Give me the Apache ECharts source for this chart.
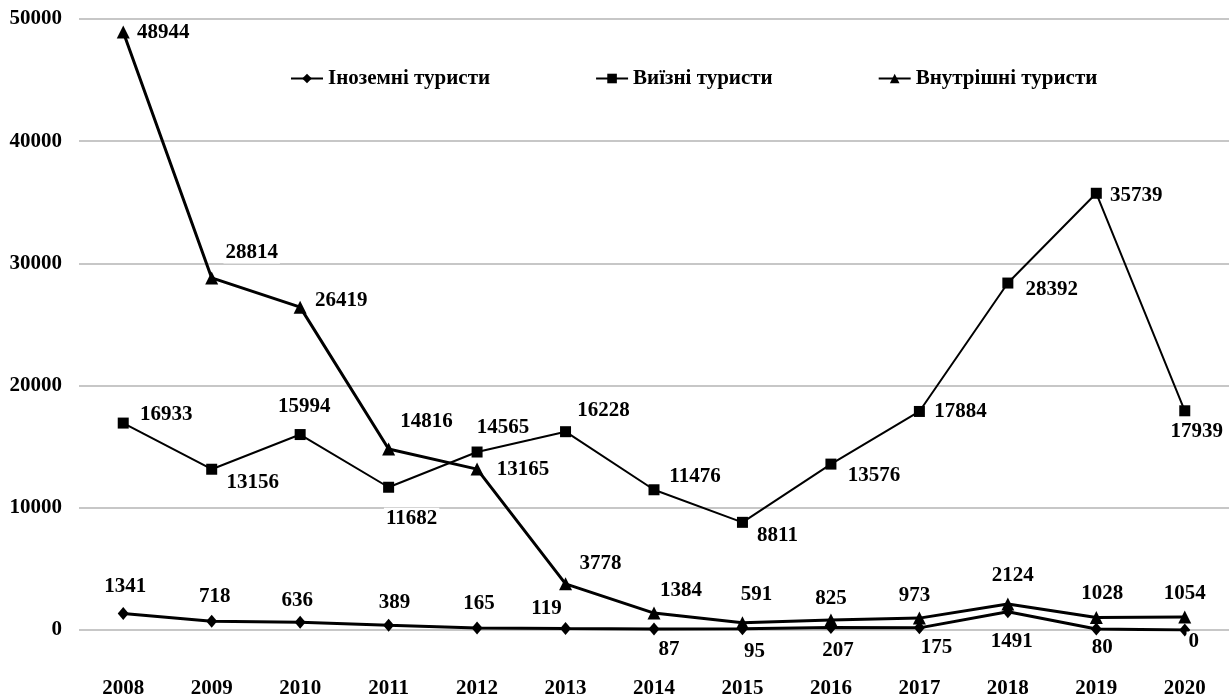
<!DOCTYPE html>
<html>
<head>
<meta charset="utf-8">
<script src="https://cdn.jsdelivr.net/npm/echarts@6/dist/echarts.min.js"></script>
<style>
  html, body { margin: 0; padding: 0; background: #fff; }
  #chart { width: 1229px; height: 699px; }
</style>
</head>
<body>
<div id="chart"></div>
<script>
// роки
var years = ['2008', '2009', '2010', '2011', '2012', '2013', '2014', '2015', '2016', '2017', '2018', '2019', '2020'];

// значення рядів
var inozemni = [1341, 718, 636, 389, 165, 119, 87, 95, 207, 175, 1491, 80, 0];
var vyizni = [16933, 13156, 15994, 11682, 14565, 16228, 11476, 8811, 13576, 17884, 28392, 35739, 17939];
var vnutrishni = [48944, 28814, 26419, 14816, 13165, 3778, 1384, 591, 825, 973, 2124, 1028, 1054];

// зсув підписів відносно точок (px)
var inozemniOffsets = [[2, -27], [3, -25], [-3, -22], [6, -23], [2, -24], [-19, -20], [15, 21], [12, 23], [7, 23], [17, 20], [4, 30], [6, 19], [9, 12]];
var vyizniOffsets = [[43, -9], [41, 13], [4, -28], [23, 31], [26, -24], [38, -21], [41, -13], [35, 13], [43, 11], [41, 0], [44, 7], [40, 2], [12, 21]];
var vnutrishniOffsets = [[40, 1], [40, -25], [41, -7], [38, -27], [46, 0], [35, -20], [27, -23], [14, -28], [0, -21], [-5, -23], [5, -28], [6, -24], [0, -24]];

var font = "'Liberation Serif', 'Times New Roman', serif";

function buildData(values, offsets) {
    return values.map(function (v, i) {
        return {
            value: v,
            label: { offset: offsets[i] }
        };
    });
}

var labelStyle = {
    show: true,
    position: 'inside',
    color: '#000',
    fontFamily: font,
    fontWeight: 'bold',
    fontSize: 21,
    backgroundColor: '#fff',
    padding: [0, 2]
};

var chart = echarts.init(document.getElementById('chart'));

chart.setOption({
    animation: false,
    backgroundColor: '#fff',
    grid: { left: 79, right: 0, top: 19, bottom: 69 },
    legend: {
        left: 285,
        top: 63,
        itemWidth: 32,
        itemHeight: 12,
        itemGap: 105,
        textStyle: { fontFamily: font, fontWeight: 'bold', fontSize: 21, color: '#000' },
        data: ['Іноземні туристи', 'Виїзні туристи', 'Внутрішні туристи']
    },
    xAxis: {
        type: 'category',
        data: years,
        boundaryGap: true,
        axisLine: { show: false },
        axisTick: { show: false },
        axisLabel: { margin: 48, color: '#000', fontFamily: font, fontWeight: 'bold', fontSize: 21 }
    },
    yAxis: {
        type: 'value',
        min: 0,
        max: 50000,
        interval: 10000,
        axisLine: { show: false },
        axisTick: { show: false },
        splitLine: { lineStyle: { color: '#b5b5b5', width: 1.5 } },
        axisLabel: {
            margin: 17,
            color: '#000',
            fontFamily: font,
            fontWeight: 'bold',
            fontSize: 21,
            formatter: function (v) { return String(v); }
        }
    },
    series: [
        {
            name: 'Іноземні туристи',
            type: 'line',
            data: buildData(inozemni, inozemniOffsets),
            symbol: 'diamond',
            symbolSize: [11, 13],
            lineStyle: { color: '#000', width: 3 },
            itemStyle: { color: '#000' },
            label: labelStyle,
            z: 3
        },
        {
            name: 'Виїзні туристи',
            type: 'line',
            data: buildData(vyizni, vyizniOffsets),
            symbol: 'rect',
            symbolSize: 11,
            lineStyle: { color: '#000', width: 2 },
            itemStyle: { color: '#000' },
            label: labelStyle,
            z: 2
        },
        {
            name: 'Внутрішні туристи',
            type: 'line',
            data: buildData(vnutrishni, vnutrishniOffsets),
            symbol: 'triangle',
            symbolSize: 13,
            lineStyle: { color: '#000', width: 3 },
            itemStyle: { color: '#000' },
            label: labelStyle,
            z: 4
        }
    ]
});
</script>
</body>
</html>
